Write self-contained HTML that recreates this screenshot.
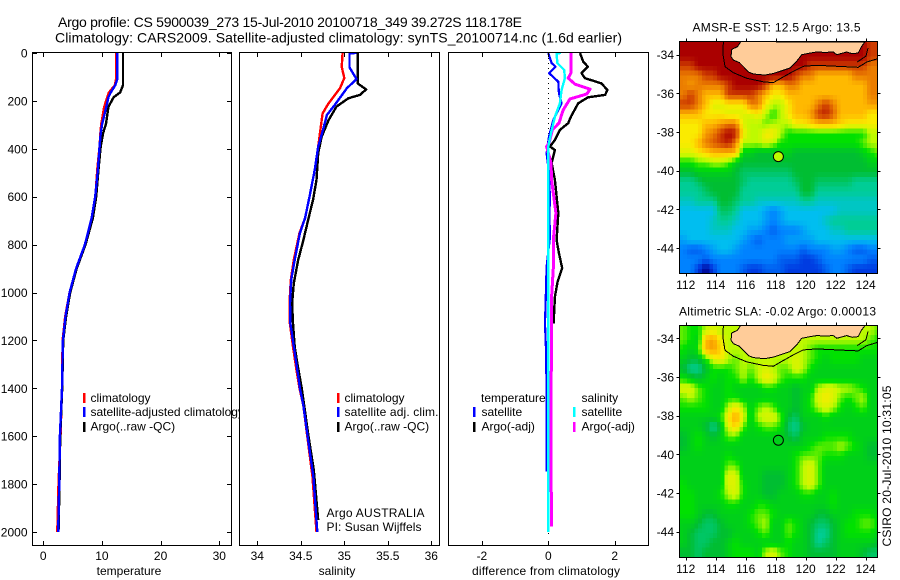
<!DOCTYPE html>
<html lang="en">
<head>
<meta charset="utf-8">
<title>Argo profile chart</title>
<style>
html,body{margin:0;padding:0;background:#fff;width:900px;height:580px;overflow:hidden}
svg{display:block}
text{font-family:"Liberation Sans",sans-serif;font-size:12px;fill:#000}
.title{font-size:14px}
</style>
</head>
<body>
<svg id="chart" xmlns="http://www.w3.org/2000/svg" width="900" height="580" viewBox="0 0 900 580">
  <defs>
    <clipPath id="clip-map1"><rect x="679.5" y="41.5" width="198" height="232"/></clipPath>
    <clipPath id="clip-map2"><rect x="679.5" y="325.5" width="198" height="232"/></clipPath>
  </defs>
  <text class="title" x="58" y="27" textLength="464" lengthAdjust="spacing">Argo profile: CS 5900039_273 15-Jul-2010 20100718_349 39.272S 118.178E</text>
  <text class="title" x="55" y="42.5" textLength="567" lengthAdjust="spacing">Climatology: CARS2009. Satellite-adjusted climatology: synTS_20100714.nc (1.6d earlier)</text>

  <g id="panel-temp">
    <rect x="32.5" y="52.5" width="199" height="493" fill="#fff"/>
    <g id="temp-marks"></g>
    <rect x="32.5" y="52.5" width="199" height="493" fill="none" stroke="#000" shape-rendering="crispEdges"/>
    <g id="temp-ticks"></g>
    <rect x="83" y="393" width="2.5" height="10" fill="#f00"/>
    <text x="90.5" y="402">climatology</text>
    <rect x="83" y="407" width="2.5" height="10" fill="#00f"/>
    <text x="90.5" y="416">satellite-adjusted climatology</text>
    <rect x="83" y="422" width="2.5" height="10" fill="#000"/>
    <text x="90.5" y="430.5">Argo(..raw -QC)</text>
    <text x="129" y="575" text-anchor="middle">temperature</text>
  </g>

  <g id="panel-sal">
    <rect x="239.5" y="52.5" width="200" height="493" fill="#fff"/>
    <g id="sal-marks"></g>
    <rect x="239.5" y="52.5" width="200" height="493" fill="none" stroke="#000" shape-rendering="crispEdges"/>
    <g id="sal-ticks"></g>
    <rect x="337" y="393" width="2.5" height="10" fill="#f00"/>
    <text x="344.5" y="402">climatology</text>
    <rect x="337" y="407" width="2.5" height="10" fill="#00f"/>
    <text x="344.5" y="416" textLength="94" lengthAdjust="spacing">satellite adj. clim.</text>
    <rect x="337" y="422" width="2.5" height="10" fill="#000"/>
    <text x="344.5" y="430.5">Argo(..raw -QC)</text>
    <text x="326.5" y="517" textLength="98" lengthAdjust="spacing">Argo AUSTRALIA</text>
    <text x="326.5" y="531" textLength="95" lengthAdjust="spacing">PI: Susan Wijffels</text>
    <text x="337" y="575" text-anchor="middle">salinity</text>
  </g>

  <g id="panel-diff">
    <rect x="448.5" y="52.5" width="200" height="493" fill="#fff"/>
    <g id="diff-marks"></g>
    <rect x="448.5" y="52.5" width="200" height="493" fill="none" stroke="#000" shape-rendering="crispEdges"/>
    <g id="diff-ticks"></g>
    <text x="481" y="402">temperature</text>
    <rect x="473" y="407" width="2.5" height="10" fill="#00f"/>
    <text x="481.5" y="416">satellite</text>
    <rect x="473" y="422" width="2.5" height="10" fill="#000"/>
    <text x="481.5" y="430.5">Argo(-adj)</text>
    <text x="581.5" y="402">salinity</text>
    <rect x="573" y="407" width="2.5" height="10" fill="#0ff"/>
    <text x="581.5" y="416">satellite</text>
    <rect x="573" y="422" width="2.5" height="10" fill="#f0f"/>
    <text x="581.5" y="430.5">Argo(-adj)</text>
    <text x="546" y="575" text-anchor="middle" textLength="148" lengthAdjust="spacing">difference from climatology</text>
  </g>

  <g id="map1">
    <text x="776.5" y="31.5" text-anchor="middle" textLength="168" lengthAdjust="spacing">AMSR-E SST: 12.5 Argo: 13.5</text>
    <g id="map1-cells" clip-path="url(#clip-map1)"></g>
    <rect x="679.5" y="41.5" width="198" height="232" fill="none" stroke="#000" shape-rendering="crispEdges"/>
    <g id="map1-ticks"></g>
  </g>

  <g id="map2">
    <text x="777.5" y="315.5" text-anchor="middle" textLength="197" lengthAdjust="spacing">Altimetric SLA: -0.02 Argo: 0.00013</text>
    <g id="map2-cells" clip-path="url(#clip-map2)"></g>
    <rect x="679.5" y="325.5" width="198" height="232" fill="none" stroke="#000" shape-rendering="crispEdges"/>
    <g id="map2-ticks"></g>
  </g>

  <text transform="translate(891,546.5) rotate(-90)" textLength="161" lengthAdjust="spacing">CSIRO 20-Jul-2010 10:31:05</text>
</svg>

<script>
/* ---------- axis tick labels ---------- */
const depthTicks = [0,200,400,600,800,1000,1200,1400,1600,1800,2000];
const tempTicks = [0,10,20,30];
const salTicks = [34,34.5,35,35.5,36];
const diffTicks = [-2,0,2];
const lonTicks = [112,114,116,118,120,122,124];
const latTicks = [-34,-36,-38,-40,-42,-44];

/* ---------- temperature profiles ---------- */
const tempDepths = [0,110,135,165,185,225,295,335,390,490,600,690,800,900,1000,1100,1200,1400,1600,1800,2000];
const tempClim = [12.4,12.4,12.2,11.2,10.9,10.4,9.9,9.75,9.6,9.2,8.9,8.3,7.1,5.6,4.5,3.75,3.3,3.2,2.95,2.6,2.4];
const tempSat = [12.6,12.6,12.27,11.5,11.1,10.75,10.05,9.8,9.6,9.3,8.86,8.25,7.1,5.6,4.5,3.8,3.35,3.2,2.85,2.72,2.55];
const tempArgo = [13.6,13.6,13.6,13.1,12.0,11.1,10.7,10.2,9.8,9.4,9.03,8.45,7.2,5.7,4.6,3.9,3.4,3.24,2.9,2.78,2.6];

/* ---------- salinity profiles ---------- */
const salClimDepths = [0,57,105,147,210,252,308,363,391,489,600,689,752,864,948,1045,1129,1226,1324,1399,1473,1630,1770,2000];
const salClim = [34.98,34.97,35.0,34.95,34.82,34.75,34.73,34.71,34.70,34.66,34.6,34.55,34.485,34.42,34.385,34.37,34.375,34.41,34.45,34.485,34.53,34.585,34.635,34.68];
const salSatDepths = [0,1,60,109,147,217,259,315,391,489,600,689,752,864,948,1045,1129,1226,1324,1399,1473,1630,1770,2000];
const salSat = [35.14,35.06,35.06,35.14,35.03,34.89,34.80,34.76,34.70,34.66,34.6,34.55,34.49,34.43,34.39,34.376,34.38,34.42,34.46,34.49,34.53,34.59,34.645,34.69];
const salArgoDepths = [0,127,152,175,189,224,280,349,418,530,614,689,781,864,961,1045,1129,1226,1295,1399,1449,1603,1741,1950];
const salArgo = [35.154,35.154,35.25,35.18,35.046,34.91,34.82,34.74,34.70,34.68,34.64,34.59,34.53,34.47,34.42,34.40,34.41,34.43,34.46,34.51,34.53,34.59,34.65,34.70];

/* ---------- differences from climatology ---------- */
const diffTempArgoDepths = [0,36,57,84,105,127,154,175,185,210,266,293,321,363,391,405,459,530,668,781,835,898,955,1018,1129];
const diffTempArgo = [0.955,1.05,1.19,1.0,1.1,1.6,1.78,1.71,1.2,0.9,0.68,0.6,0.35,0.2,0.05,0.2,0.1,0.2,0.3,0.25,0.32,0.42,0.28,0.2,0.16];
const diffTempSatDepths = [0,42,57,84,120,167,210,280,349,418,501,614,668,768,892,1045,1129,1240,1407,1574,1748];
const diffTempSat = [0,0.1,0.22,0.02,0.3,0.32,0.4,0.15,0.02,-0.05,0.02,0.05,0.03,0.05,-0.05,-0.08,-0.1,-0.07,-0.05,-0.05,-0.05];
const diffSalArgoDepths = [0,84,105,130,151,171,192,238,293,321,376,391,459,530,668,781,898,1018,1129,1282,1365,1728,1978];
const diffSalArgo = [0.68,0.68,0.6,0.8,1.26,1.16,0.65,0.45,0.32,0.12,0.02,-0.05,0.08,0.1,0.23,0.15,0.15,0.1,0.1,0.1,0.08,0.08,0.1];
const diffSalSatDepths = [0,1,42,71,105,154,210,266,335,391,683,2000];
const diffSalSat = [0.38,0.25,0.27,0.48,0.5,0.4,0.35,0.2,0.08,0,0,0];

/* ---------- map data: colour levels, one row per 0.5 degree of latitude ---------- */
const mapLonStart = 111.57;
const mapLatStart = -33.33;
const cellDegrees = 0.5;
const sstLevels = [
[12,12,12,12,12,12,12,12,12,12,12,12,12,12,12,12,12,12,12,12,12,12,12,12,12,11,11],
[12,12,12,12,12,12,12,12,12,12,12,12,12,12,12,12,12,12,12,12,12,12,12,12,12,11,11],
[11,11,12,12,12,12,12,12,12,12,12,12,12,12,12,12,12,11,11,11,11,11,11,11,11,10,10],
[10,10,10,11,11,12,12,12,12,12,12,12,12,12,12,11,10,10,9,9,9,9,9,10,10,10,10],
[10,9.5,10,10,10,10,11,12,12,12,12,11,9,9,10,10,9,9,9,9,9,9,9,9,9,10,10],
[10,11,10,9,9,9,11,11,11,11,10,9,8,8,9,9,9,9,9,9,9,9,9,9,9,10,10],
[11,11,10,9,7.5,7.5,8,8,8,10,10,8,7,7,8,9,9,9,10,11,10,9,9,9,9,9.5,9.5],
[9,9,9,8,8,8,7.5,7.5,7.5,7.5,8,7,6,7,8,9,9,9.5,11,11.5,10.5,9,9,9,9,8,8],
[8,8,8,9,9,9.5,10,10,7.5,7,7,6.5,7,7,7,8,8,8.5,9,9,9,8.5,8,8,8,8,8],
[8,8,8,9.5,10,11,12,11.5,8,7,7,8,8,7,6,6,6,6,6,6,6,6,6,6,6,7,7],
[8,8,9,10,10.5,11,11.5,10,7,7,7,7.5,7,6,6,6,6,6,6,6,6,6,6,6,6.5,7,7],
[7.5,7.5,8,8.5,9,9,9,9,5.5,5.5,5,5,5,5.5,5.5,5,5,5,5,5,5,5,5,5,5.5,6,6.5],
[6,6,6.5,6.5,7,7,6.5,5.5,5,5,5,5,5,5,5,5,5,5,5,5,5,5,5,5,5,5.5,5.5],
[5,5,5.5,5.5,5.5,5.5,5.5,5,4.5,4.5,4.5,4.5,4.5,4.5,4.5,5,5,5,5,5,5,5,5,5,5,5,5],
[4,4,4.5,5,5,5,5,5,4.5,4,4,4,4,4,4,4.5,5,5,4.5,4.5,4.5,4.5,4.5,4,4,4,4],
[4,4,4,4.5,5,5,5,5,4,4,4,4,4,4,4,4,5,5,4,4,4,4,4,4,4,4,4],
[3.5,3.5,4,4,4,5,5,4.5,4,4,3.5,3.5,3.5,3.5,3.5,3.5,4,4,3.5,3.5,3.5,3.5,3.5,3.5,3.5,3.5,3.5],
[3,3,3,3,3,4.5,4.5,4,3,3,3,2.5,2,2.5,3,3,3,3,3,3,3,3.5,3.5,3.5,3.5,3.5,3.5],
[3,3,3,3,3.5,4,4,3.5,3,3,3,2.5,2,2.5,3,3,3,3,3,3.5,4,4,4,4,4,4,4],
[3,3,3,3,3.5,3.5,3.5,3,3,2.5,2.5,2,1.5,2,2,2,2.5,3,3,3,3.5,3.5,4,4,4,4,4],
[2.5,3,3,3,3,3,3,3,2.5,2,1.5,2,2,2,2.5,2.5,2.5,2.5,3,3,3,3,3,3,3,3,3],
[2,1.5,1.5,2,2.5,3,3,2.5,2,2,2,2,2,2,2,2,1.5,2,2,2,2.5,2.5,2,1.5,1.5,2,2],
[2,2,2,1.5,2,2,2,2,2,2,2,2,2,1.5,1.5,1.5,1,1,1.5,2,2,2,2,2,2,1.5,1.5],
[2,2,1,0,1,2,2,2,1.5,1,1,1.5,1.5,1.5,1,1,1,1,1,1.5,2,2,1.5,1,1,1,1]
];
const slaLevels = [
[6.5,6,6,7,7.5,7,7,7,7,7,7,7,7,7,7,7,7,7,7,7,7,7,7,7,7,7,6.5],
[6.5,6,5.5,9,9.5,8,7,7,7,7,7,7,7,7,7,7,7,7,7,7,7,7,7,7,7,6.5,6],
[6,5.5,6,9,9.5,8.5,7,7,7,7,7,7,7,7,7,7,7,6.5,6,6,6,6,6,6,6,6,6],
[5.5,5,5,6,7.5,8,7,6.5,7,7,7,7,7,7,7,7.5,7,6.5,6,5.5,6,6,6,6,5.5,5.5,5.5],
[5,4,4,5,6,6,6,6.5,7,6.5,7,7.5,7,6.5,6.5,7.5,7,6,5.5,5.5,5.5,5.5,5.5,5.5,5.5,5.5,5.5],
[6,5.5,5,5.5,6,5.5,6,6,7,6,7,8,7.5,6.5,6,6,6,5.5,5.5,5.5,5.5,5.5,5.5,5.5,5.5,5.5,5.5],
[7.5,7.5,6.5,6,5.5,5.5,6,5.5,5.5,5.5,5.5,6,6,5.5,5.5,5,5.5,5.5,7,7.5,7.5,7,7,6.5,6,5.5,5.5],
[6.5,7,6.5,6,5.5,5.5,6,6,5.5,5.5,5.5,5.5,5.5,5.5,5.5,5,5.5,6,7.5,8,7.5,6.5,6,6.5,7,5.5,5.5],
[6,6,6,6,5.5,5.5,7,8,7,5.5,6.5,7,6.5,5.5,5.5,5,5.5,6,7,7.5,7,6,5.5,6,6.5,5.5,5.5],
[5.5,5.5,5.5,5.5,5.5,6,8,9.5,7.5,5.5,7,7.5,7.5,6.5,5,4.5,5.5,5.5,5.5,6,5.5,5.5,5.5,5.5,5.5,5.5,5.5],
[5.5,5.5,5.5,5,4,5,7.5,8.5,6.5,5.5,6,6.5,6.5,6,4.5,4,5,5.5,5.5,5.5,5.5,5.5,5.5,5.5,5.5,5.5,5.5],
[5,5.5,6,5.5,5,5.5,6.5,6.5,5.5,5.5,5.5,5.5,5.5,5.5,5,4.5,5.5,5.5,5.5,6,6,6,6,5.5,5.5,5.5,5.5],
[5,5.5,6,5.5,5.5,5.5,5.5,5.5,5.5,5.5,5.5,5.5,5.5,5.5,5.5,5.5,5.5,6,6.5,6.5,6.5,7,6.5,6,5.5,5,5],
[5.5,5.5,5.5,5.5,5.5,5.5,6,5.5,5.5,5.5,5.5,5.5,5.5,5.5,5.5,6,6.5,6.5,6.5,6,6,6,5.5,5.5,5.5,5,5],
[5.5,5.5,5.5,5.5,5.5,5.5,6.5,6.5,5.5,5.5,5.5,5.5,5.5,5.5,5.5,6,7,7.5,6.5,5.5,5.5,5.5,5.5,5.5,5.5,5.5,5.5],
[5.5,5.5,5.5,5.5,5.5,5.5,7.5,7.5,5.5,5.5,5.5,5,5,5,5.5,6,7,7.5,6.5,5.5,5.5,5.5,5.5,5.5,5.5,5.5,5.5],
[6,5.5,5.5,5.5,5.5,5.5,7.5,7.5,6,5.5,5.5,5,5,5,5.5,6,7,7.5,6.5,5.5,5.5,5.5,5.5,5.5,5.5,5.5,5.5],
[6,6,5.5,5.5,5.5,6,7,7.5,6,5.5,5.5,5,5,5.5,5.5,5.5,6,6,5.5,5.5,6,5.5,5.5,5.5,5.5,5.5,5.5],
[6,6,5.5,5.5,5.5,5.5,6,6,5.5,5.5,6,6,5.5,5.5,5.5,5.5,5.5,5.5,5.5,5.5,6,5.5,5.5,5.5,5.5,5.5,5.5],
[6,6,5.5,5,5,5.5,5.5,5.5,5.5,6,6.5,6.5,6,5.5,5.5,5.5,5.5,5.5,5,5,5.5,5.5,5.5,6,6,6,5.5],
[5.5,5.5,5,4.5,4.5,5,5.5,5.5,5.5,6,6.5,7,5.5,5.5,6.5,6,5.5,5,4.5,4.5,5,5.5,6,6,6.5,6.5,6],
[5.5,5,4.5,4.5,4.5,5,5,5.5,5.5,5.5,6,6.5,5.5,5.5,6.5,6,5.5,5,4,4,5,5.5,6,6,6,6,5.5],
[5.5,5,4.5,4.5,5,5,5.5,6,5.5,5.5,5.5,5.5,5.5,5.5,6,5.5,5.5,5,4,4.5,5,5.5,5.5,5.5,5.5,5.5,5],
[5,5,4.5,5,5,5,5.5,6,6,6,5.5,7,7.5,6.5,6,5.5,5.5,5,5,5,5,5.5,5.5,5.5,5,4.5,4.5]
];
const landLons = [115.67,115.44,115.07,115.02,115.18,115.58,115.96,116.2,116.51,116.9,117.29,117.84,118.29,118.95,119.4,119.73,120.2,120.73,121.3,121.84,122.07,122.73,123.1,123.5,123.7,123.95];
const landLats = [-33.33,-33.59,-33.72,-34.1,-34.28,-34.41,-34.71,-34.9,-35.0,-35.03,-35.05,-34.97,-34.86,-34.69,-34.34,-34.0,-33.93,-33.86,-33.88,-33.86,-34.0,-33.86,-33.95,-33.91,-33.6,-33.34];
const shelfLons = [114.51,114.47,114.62,115.18,116.07,117.18,117.84,118.29,119.17,119.84,120.73,122.07,123.5,124.07,124.95];
const shelfLats = [-33.33,-33.93,-34.62,-34.93,-35.22,-35.4,-35.45,-35.24,-34.86,-34.6,-34.55,-34.6,-34.65,-34.38,-34.17];
const bankLons = [123.44,124.02,124.15];
const bankLats = [-34.38,-34.07,-33.65];
const profileLon = 118.178;
const profileLat = -39.272;
const sstProfileLevel = 7;
const slaProfileLevel = 5.5;

/* ---------- axis functions ---------- */
const yDepth = d => 53 + 0.2395 * d;
const xTemp = v => 43.2 + 5.87 * v;
const xSal = v => 344.3 + 87 * (v - 35);
const xDiff = v => 548.3 + 33.2 * v;
const xLon = lon => 685.7 + (lon - 112) * 15;
const yLat1 = lat => 54.7 + (-34 - lat) * 19.33;
const yLat2 = lat => 338.3 + (-34 - lat) * 19.33;

/* ---------- drawing helpers ---------- */
const NS = 'http://www.w3.org/2000/svg';
function make(tag, parent, name) {
  const el = document.createElementNS(NS, tag);
  
  
  parent.appendChild(el);
  return el;
}
function drawLine(parent, name, x1, y1, x2, y2) {
  const el = make('line', parent, name);
  el.setAttribute('x1', x1);
  el.setAttribute('y1', y1);
  el.setAttribute('x2', x2);
  el.setAttribute('y2', y2);
  el.setAttribute('stroke', '#000');
  el.setAttribute('shape-rendering', 'crispEdges');
}
function drawText(parent, name, x, y, anchor, str) {
  const el = make('text', parent, name);
  el.setAttribute('x', x);
  el.setAttribute('y', y);
  el.setAttribute('text-anchor', anchor);
  el.textContent = str;
}
function drawProfile(parent, name, depths, values, xFn, color, width) {
  const el = make('polyline', parent, name);
  el.setAttribute('points', depths.map((d, i) => xFn(values[i]).toFixed(1) + ',' + yDepth(d).toFixed(1)).join(' '));
  el.setAttribute('fill', 'none');
  el.setAttribute('stroke', color);
  el.setAttribute('stroke-width', width);
  el.setAttribute('stroke-linejoin', 'round');
  el.setAttribute('shape-rendering', 'crispEdges');
}
function xAxis(group, prefix, ticks, xFn) {
  ticks.forEach(t => {
    const x = Math.round(xFn(t)) + 0.5;
    drawLine(group, prefix + '-tick-top-' + t, x, 52.5, x, 57);
    drawLine(group, prefix + '-tick-bottom-' + t, x, 541, x, 545.5);
    drawText(group, prefix + '-tick-label-' + t, xFn(t), 560, 'middle', String(t));
  });
}

/* ---------- temperature panel ---------- */
const tempG = document.getElementById('temp-marks');
drawProfile(tempG, 'line-temp-climatology', tempDepths, tempClim, xTemp, '#f00', 2.4);
drawProfile(tempG, 'line-temp-argo', tempDepths, tempArgo, xTemp, '#000', 2.4);
drawProfile(tempG, 'line-temp-satellite', tempDepths, tempSat, xTemp, '#00f', 2.4);
const tempAxes = document.getElementById('temp-ticks');
xAxis(tempAxes, 'temp-x', tempTicks, xTemp);
depthTicks.forEach(d => {
  const y = Math.round(yDepth(d)) + 0.5;
  drawLine(tempAxes, 'depth-tick-left-' + d, 32.5, y, 37, y);
  drawLine(tempAxes, 'depth-tick-right-' + d, 227, y, 231.5, y);
  drawText(tempAxes, 'depth-tick-label-' + d, 27.5, yDepth(d) + 4.5, 'end', String(d));
});

/* ---------- salinity panel ---------- */
const salG = document.getElementById('sal-marks');
drawProfile(salG, 'line-sal-climatology', salClimDepths, salClim, xSal, '#f00', 2.4);
drawProfile(salG, 'line-sal-argo', salArgoDepths, salArgo, xSal, '#000', 2.4);
drawProfile(salG, 'line-sal-satellite', salSatDepths, salSat, xSal, '#00f', 2.4);
xAxis(document.getElementById('sal-ticks'), 'sal-x', salTicks, xSal);

/* ---------- difference panel ---------- */
const diffG = document.getElementById('diff-marks');
const zeroLine = make('line', diffG, 'zero-reference-line');
zeroLine.setAttribute('x1', xDiff(0));
zeroLine.setAttribute('x2', xDiff(0));
zeroLine.setAttribute('y1', yDepth(0));
zeroLine.setAttribute('y2', yDepth(2020));
zeroLine.setAttribute('stroke', '#000');
zeroLine.setAttribute('stroke-dasharray', '1 4');
zeroLine.setAttribute('shape-rendering', 'crispEdges');
drawProfile(diffG, 'line-diff-temp-argo', diffTempArgoDepths, diffTempArgo, xDiff, '#000', 2.4);
drawProfile(diffG, 'line-diff-temp-satellite', diffTempSatDepths, diffTempSat, xDiff, '#00f', 2.2);
drawProfile(diffG, 'line-diff-sal-argo', diffSalArgoDepths, diffSalArgo, xDiff, '#f0f', 3);
drawProfile(diffG, 'line-diff-sal-satellite', diffSalSatDepths, diffSalSat, xDiff, '#0ff', 2.4);
xAxis(document.getElementById('diff-ticks'), 'diff-x', diffTicks, xDiff);

/* ---------- maps ---------- */
const colourStops = [[0,0,140],[0,60,225],[0,130,255],[0,190,240],[0,205,150],[0,190,50],[0,225,0],[190,250,0],[250,235,0],[255,185,0],[235,125,0],[205,60,0],[170,0,0]];
function levelColour(level) {
  const lo = Math.max(0, Math.min(colourStops.length - 1, Math.floor(level)));
  const hi = Math.min(colourStops.length - 1, lo + 1);
  const f = level - lo;
  const c = colourStops[lo].map((v, i) => Math.round(v + (colourStops[hi][i] - v) * f));
  return 'rgb(' + c.join(',') + ')';
}
/* Each 0.5 degree value is shown as 2x2 quarter-degree pixels, blended with its neighbours,
   to match the finer grid of the original image. */
function sampleLevel(rows, r, c) {
  const rr = Math.max(0, Math.min(rows.length - 1, r));
  const row = rows[rr];
  return row[Math.max(0, Math.min(row.length - 1, c))];
}
function blendedLevel(rows, r, c, dr, dc) {
  const nr = r + dr;
  const nc = c + dc;
  return 0.5625 * sampleLevel(rows, r, c) + 0.1875 * sampleLevel(rows, nr, c) + 0.1875 * sampleLevel(rows, r, nc) + 0.0625 * sampleLevel(rows, nr, nc);
}
function drawContour(parent, name, lons, lats, yFn) {
  const el = make('polyline', parent, name);
  el.setAttribute('points', lons.map((lon, i) => xLon(lon).toFixed(1) + ',' + yFn(lats[i]).toFixed(1)).join(' '));
  el.setAttribute('fill', 'none');
  el.setAttribute('stroke', '#000');
  el.setAttribute('shape-rendering', 'crispEdges');
}
function drawMap(prefix, cellsId, ticksId, rows, yFn, top, bottom, dotLevel) {
  const cells = document.getElementById(cellsId);
  const half = cellDegrees / 2;
  rows.forEach((row, r) => {
    const latTop = mapLatStart - r * cellDegrees;
    row.forEach((level, c) => {
      const lonLeft = mapLonStart + c * cellDegrees;
      [[-1, 0], [1, 1]].forEach(([dr, rowStep]) => {
        [[-1, 0], [1, 1]].forEach(([dc, colStep]) => {
          const cell = make('rect', cells, prefix + '-cell');
          const lon = lonLeft + colStep * half;
          const lat = latTop - rowStep * half;
          cell.setAttribute('x', xLon(lon).toFixed(2));
          cell.setAttribute('y', yFn(lat).toFixed(2));
          cell.setAttribute('width', (xLon(lon + half) - xLon(lon) + 0.7).toFixed(2));
          cell.setAttribute('height', (yFn(lat - half) - yFn(lat) + 0.7).toFixed(2));
          cell.setAttribute('fill', levelColour(blendedLevel(rows, r, c, dr, dc)));
          cell.setAttribute('shape-rendering', 'crispEdges');
        });
      });
    });
  });
  const land = make('polygon', cells, prefix + '-land');
  land.setAttribute('points', landLons.map((lon, i) => xLon(lon).toFixed(1) + ',' + yFn(landLats[i]).toFixed(1)).join(' '));
  land.setAttribute('fill', '#ffcc99');
  land.setAttribute('stroke', '#000');
  land.setAttribute('shape-rendering', 'crispEdges');
  drawContour(cells, prefix + '-shelf-contour', shelfLons, shelfLats, yFn);
  drawContour(cells, prefix + '-bank-contour', bankLons, bankLats, yFn);
  const dot = make('circle', cells, prefix + '-profile-location');
  dot.setAttribute('cx', xLon(profileLon));
  dot.setAttribute('cy', yFn(profileLat));
  dot.setAttribute('r', 5);
  dot.setAttribute('fill', levelColour(dotLevel));
  dot.setAttribute('stroke', '#000');
  const axes = document.getElementById(ticksId);
  lonTicks.forEach(lon => {
    const x = Math.round(xLon(lon)) + 0.5;
    drawLine(axes, prefix + '-lon-tick-top-' + lon, x, top - 3, x, top);
    drawLine(axes, prefix + '-lon-tick-bottom-' + lon, x, bottom, x, bottom + 3);
    drawText(axes, prefix + '-lon-label-' + lon, xLon(lon), bottom + 15.5, 'middle', String(lon));
  });
  latTicks.forEach(lat => {
    const y = Math.round(yFn(lat)) + 0.5;
    drawLine(axes, prefix + '-lat-tick-left-' + lat, 676.5, y, 679.5, y);
    drawLine(axes, prefix + '-lat-tick-right-' + lat, 877.5, y, 880.5, y);
    drawText(axes, prefix + '-lat-label-' + lat, 674, yFn(lat) + 4.5, 'end', String(lat));
  });
}
drawMap('sst', 'map1-cells', 'map1-ticks', sstLevels, yLat1, 41.5, 273.5, sstProfileLevel);
drawMap('sla', 'map2-cells', 'map2-ticks', slaLevels, yLat2, 325.5, 557.5, slaProfileLevel);
</script>
</body>
</html>
